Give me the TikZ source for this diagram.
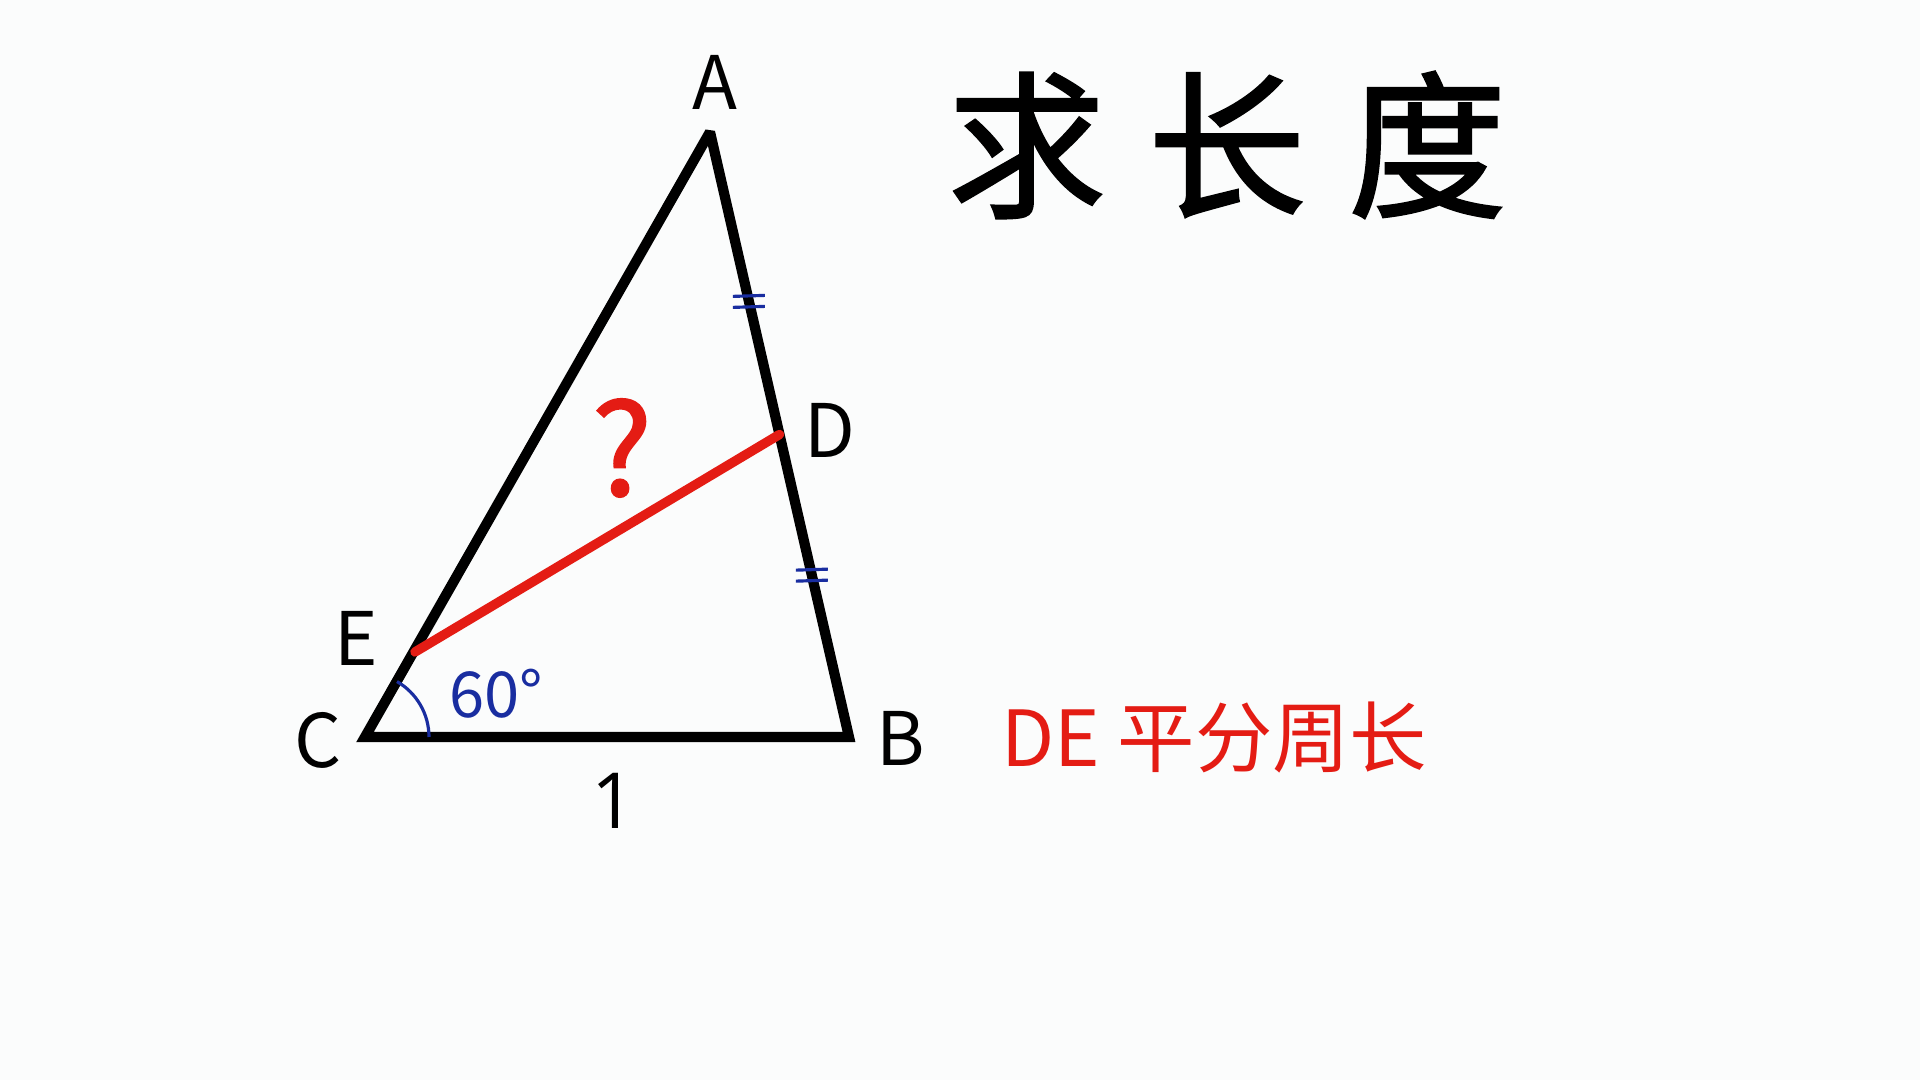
\documentclass[tikz,border=0pt]{standalone}
\usepackage{fontspec}
\setmainfont{Noto Sans CJK SC}
\newfontfamily\headfont[FakeBold=1.6]{Noto Sans CJK SC}
\newfontfamily\numfont{Open Sans}
\definecolor{inkred}{RGB}{228,28,20}
\definecolor{inkblue}{RGB}{25,45,160}
\definecolor{paper}{RGB}{251,252,252}
\usetikzlibrary{calc}
\usetikzlibrary{positioning}
\tikzset{
  side/.style={line width=2.9pt, miter limit=2.2},
  answer/.style={draw=inkred, line width=2.7pt, line cap=round},
  tickmark/.style={draw=inkblue, line width=0.9pt},
  vertexlabel/.style={font=\fontsize{21}{21}\selectfont, inner sep=0pt},
}

\begin{document}
\begin{tikzpicture}[x=0.01cm, y=-0.01cm]
  \fill[paper] (0,0) rectangle (1920,1080);
  \useasboundingbox (0,0) rectangle (1920,1080);

  % triangle
  \coordinate (A) at (710,132);
  \coordinate (B) at (849,737);
  \coordinate (C) at (365,737);
  \coordinate (D) at ($(A)!0.5!(B)$);
  \coordinate (E) at (415,652);

  \draw[side] (A) -- (B) -- (C) -- cycle;
  \draw[answer] (E) -- (D);

  % equal marks
  \coordinate (m1) at ($(A)!0.56!(D)$);
  \coordinate (m2) at ($(D)!0.465!(B)$);
  \foreach \m in {m1, m2} {
    \draw[tickmark] ($(\m)+(-16,-5)$) -- ($(\m)+(16,-6)$);
    \draw[tickmark] ($(\m)+(-16,6)$) -- ($(\m)+(16,5)$);
  }

  % angle at C
  \draw[inkblue, line width=0.9pt] ($(C)+(64,0)$) arc (0:-60:64);

  \begin{scope}[every node/.style={vertexlabel}]
    \node (labA) at (715,82) {A};
    \node (labB) at (901,738) {B};
    \node (labC) at (318,740) {C};
    \node (labD) at (830,430) {D};
    \node (labE) at (356,638) {E};
  \end{scope}

  \node[font=\numfont\fontsize{22}{22}\selectfont, inner sep=0pt] (len) at (614,801) {1};
  \node[text=inkblue, font=\fontsize{18}{18}\selectfont, inner sep=0pt] (ang) at (496,694) {60°};
  \node[text=inkred, font=\headfont\fontsize{36}{36}\selectfont, inner sep=0pt] (ask) at (622,448) {?};

  \node[font=\headfont\fontsize{45}{45}\selectfont, inner sep=0pt] (title) at (1227,145)
    {求\hspace{0.42cm}长\hspace{0.42cm}度};
  \node[right=0.75cm of labB, text=inkred, font=\fontsize{22}{22}\selectfont, inner sep=0pt] (rule)
    {DE 平分周长};
\end{tikzpicture}
\end{document}
